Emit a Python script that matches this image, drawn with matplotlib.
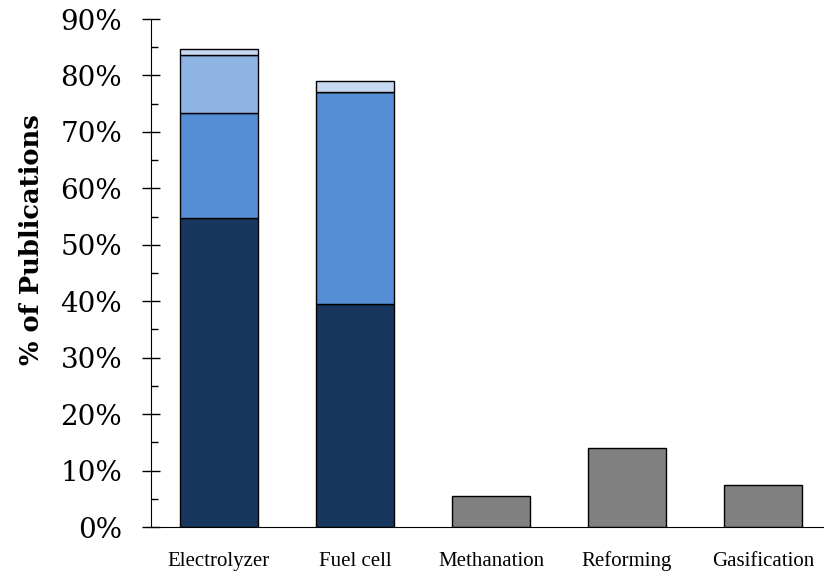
import matplotlib.pyplot as plt
from matplotlib.ticker import MultipleLocator, PercentFormatter
import numpy as np

categories = ['Electrolyzer', 'Fuel cell', 'Methanation', 'Reforming', 'Gasification']

# stacked parts for the first two bars (in %)
layer1 = [54.7, 39.5]
layer2 = [18.7, 37.5]
layer3 = [10.2, 0.0]
layer4 = [1.0, 2.0]

# single bars for the rest
others = [5.55, 14.0, 7.4]

layer_colors = ['#17375E', '#558ED5', '#8EB4E3', '#C6D9F1']

plt.rcParams['font.family'] = ['DejaVu Serif']

fig = plt.figure(figsize=(8.24, 5.73), dpi=100)
ax = fig.add_axes([151 / 824, 46 / 573, 680 / 824, 508 / 573])

x = np.arange(len(categories))
w = 0.575

bottom = np.zeros(2)
for vals, c in zip([layer1, layer2, layer3, layer4], layer_colors):
    ax.bar(x[:2], vals, w, bottom=bottom, color=c, edgecolor='black', linewidth=1)
    bottom += np.array(vals)

ax.bar(x[2:], others, w, color='#808080', edgecolor='black', linewidth=1)

ax.set_xlim(-0.5, 4.5)
ax.set_ylim(0, 90)
ax.yaxis.set_major_locator(MultipleLocator(10))
ax.yaxis.set_minor_locator(MultipleLocator(5))
ax.yaxis.set_major_formatter(PercentFormatter(decimals=0))
ax.tick_params(axis='y', which='major', direction='inout', length=13.5, width=1,
               labelsize=20, pad=14)
ax.tick_params(axis='y', which='minor', direction='in', length=5, width=1)
ax.tick_params(axis='x', length=0, pad=28)
ax.set_xticks(x)
ax.set_xticklabels(categories, fontsize=15, family=['Liberation Serif'], va='baseline')

ax.spines['top'].set_visible(False)
ax.spines['right'].set_visible(False)
ax.spines['bottom'].set_clip_on(False)

ax.set_ylabel('% of Publications', fontsize=18.5, fontweight='bold')
ax.yaxis.set_label_coords(-0.158, 0.565)

fig.savefig('out.png', dpi=100)
